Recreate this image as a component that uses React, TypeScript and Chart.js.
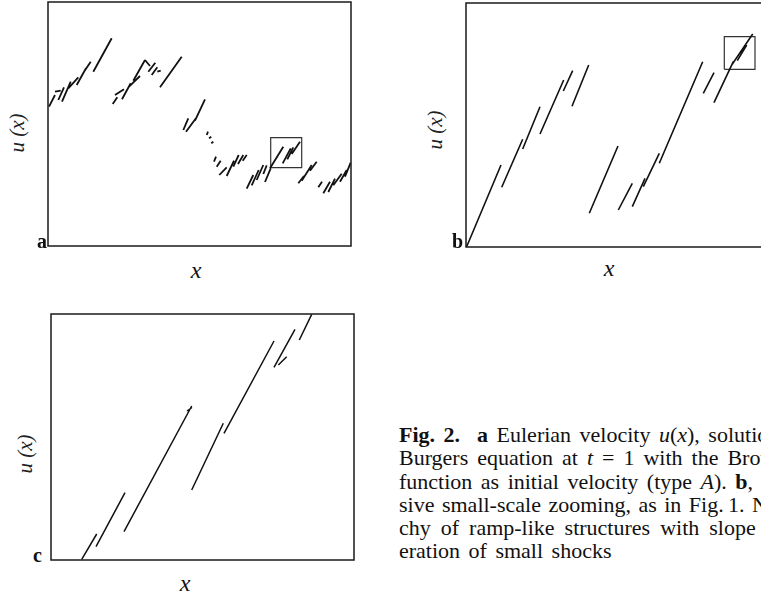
import React, { useEffect, useRef } from "react";
import { Chart, registerables } from "chart.js";

Chart.register(...registerables);

// Segments [x1, y1, x2, y2] in panel units (x: 0..303 from left frame, y: 0..height from bottom frame)
const panelASegments: number[][] = [
  [1, 139.3, 7, 151], [7, 154.3, 12.7, 155.3], [10.3, 146, 16, 158.7], [14, 144.3, 22.7, 164.3],
  [20.3, 157.7, 30.3, 168.7], [28.7, 161, 38, 177.7], [36, 174.3, 42.7, 184.3], [45.3, 174.3, 63.7, 207.7],
  [64.7, 142, 69.3, 148.7], [67, 151, 76, 156.7], [74, 146.7, 82.7, 162.7], [80.3, 158.7, 92, 170],
  [85.3, 165.3, 97, 186], [97, 186, 102, 180], [100.3, 174.3, 107.3, 183.3], [103.7, 171, 109.3, 178.7],
  [109.3, 174.3, 112.7, 175.3], [112, 158.7, 133.7, 189.3],
  [135.3, 116, 140.3, 127.7], [138, 114.3, 148.7, 128.7], [147, 125.3, 157, 146.7],
  [158.7, 111, 160, 114.3], [161, 107.7, 163.3, 109.3], [163.3, 102.7, 165.3, 104.3],
  [166, 84.3, 168, 89.3], [168.7, 79.3, 172.7, 85.3], [171.3, 71, 178.7, 78.7], [178.7, 70, 186, 85.3],
  [185.3, 79.3, 190.7, 91], [190, 82, 195.3, 91], [194.7, 85.3, 198.7, 91],
  [198.7, 57.3, 205.3, 71], [203.7, 60.7, 210.7, 76], [208.7, 66, 215.3, 81], [215.3, 72, 218.7, 80.7],
  [217, 64, 222.7, 77.7], [222, 77.7, 235.3, 99.3], [234.7, 82.7, 242.7, 97.7], [239.3, 86.7, 245.3, 98.7],
  [243.7, 92, 252, 104.3],
  [250.3, 62.7, 256, 70], [253.7, 65.3, 263.7, 81], [262, 75.3, 268.7, 84.3],
  [270.3, 58.7, 274, 64.3], [275.3, 52.7, 282, 64.3], [280.3, 54, 287, 67.3], [285.3, 60.7, 293.7, 72.3],
  [292, 64.3, 298.7, 76], [297, 69.3, 302.7, 83.3],
];
const panelAInset: number[] = [222.7, 78.3, 253.7, 108.3]; // x1, y1, x2, y2

const panelBSegments: number[][] = [
  [0.5, 0, 35, 82], [35.7, 59.7, 56.7, 107.7], [56.7, 98, 74, 140.3], [74, 113, 97.7, 167],
  [97.3, 156, 106.7, 176.3], [106, 140.7, 122.7, 182], [123.3, 33.7, 152, 101],
  [152.3, 37, 166.3, 63.7], [166.3, 40.3, 179, 68.7], [177.3, 60.3, 193.3, 93.7],
  [193.3, 83.7, 236.7, 185.3], [237.3, 153.7, 248, 174.3], [248, 144.3, 267.3, 185.3],
  [265.7, 182, 286.7, 213], [271.3, 186.3, 280.7, 202],
];
const panelBInset: number[] = [258.3, 177.7, 289, 210.3];

const panelCSegments: number[][] = [
  [30.7, 0.7, 45.7, 26], [45, 13.3, 74, 67.3], [73, 28.3, 140.7, 154], [136, 149, 141, 152.5],
  [140.7, 70, 172.3, 136.7], [173, 126.7, 223, 219], [223, 192.7, 244, 230.7],
  [227.3, 195, 235.7, 203.3], [248.3, 220, 260.7, 245.7],
];

const captionLines: string[] = [
  "<b>Fig. 2.</b>&nbsp; <b>a</b> Eulerian velocity <i>u</i>(<i>x</i>), solution of the",
  "Burgers equation at <i>t</i> = 1 with the Brownian motion",
  "function as initial velocity (type <i>A</i>). <b>b</b>, <b>c</b> Succes-",
  "sive small-scale zooming, as in Fig.&#8201;1. Note the hierar-",
  "chy of ramp-like structures with slope 1 and the prolif-",
  "eration of small shocks",
];
const captionSpacing: number[] = [3, 3.5, 3, 2, 4.5, 3];

const frame = {
  id: "frame",
  afterDatasetsDraw(chart: any) {
    const { ctx, chartArea } = chart;
    ctx.save();
    ctx.strokeStyle = "#1a1a1a";
    ctx.lineWidth = 1.5;
    ctx.strokeRect(chartArea.left, chartArea.top, chartArea.right - chartArea.left, chartArea.bottom - chartArea.top);
    ctx.restore();
  },
};

function toPoints(segs: number[][]) {
  const pts: any[] = [];
  segs.forEach((s) => {
    pts.push({ x: s[0], y: s[1] });
    pts.push({ x: s[2], y: s[3] });
    pts.push({ x: s[2], y: null });
  });
  return pts;
}
function boxPoints(b: number[]) {
  return [
    { x: b[0], y: b[1] }, { x: b[2], y: b[1] }, { x: b[2], y: b[3] }, { x: b[0], y: b[3] }, { x: b[0], y: b[1] },
  ];
}

const PAD = 4;

function Panel(props: { segs: number[][]; inset?: number[]; w: number; h: number; left: number; top: number; lw: number }) {
  const ref = useRef<HTMLCanvasElement>(null);
  useEffect(() => {
    const datasets: any[] = [
      { data: toPoints(props.segs), borderColor: "#111", borderWidth: props.lw, pointRadius: 0, spanGaps: false, tension: 0 },
    ];
    if (props.inset) {
      datasets.push({ data: boxPoints(props.inset), borderColor: "#333", borderWidth: 1.2, pointRadius: 0, tension: 0 });
    }
    const chart = new Chart(ref.current!, {
      type: "line",
      data: { datasets },
      options: {
        animation: false,
        responsive: false,
        events: [],
        layout: { padding: PAD },
        plugins: { legend: { display: false }, tooltip: { enabled: false } },
        scales: {
          x: { type: "linear", min: 0, max: props.w, display: false },
          y: { type: "linear", min: 0, max: props.h, display: false },
        },
      },
      plugins: [frame],
    });
    return () => chart.destroy();
  }, []);
  return (
    <canvas
      ref={ref}
      width={props.w + 2 * PAD}
      height={props.h + 2 * PAD}
      style={{ position: "absolute", left: props.left - PAD, top: props.top - PAD, width: props.w + 2 * PAD, height: props.h + 2 * PAD }}
    />
  );
}

const serif = "'Liberation Serif', 'DejaVu Serif', serif";

function Letter(p: { t: string; left: number; top: number }) {
  return (
    <div style={{ position: "absolute", left: p.left, top: p.top, font: `bold 20px ${serif}`, lineHeight: "20px", color: "#111" }}>{p.t}</div>
  );
}
function ULabel(p: { cx: number; cy: number }) {
  return (
    <div style={{ position: "absolute", left: p.cx, top: p.cy, transform: "translate(-50%,-50%) rotate(-90deg)", font: `italic 21px ${serif}`, lineHeight: "21px", whiteSpace: "nowrap", color: "#222" }}>
      u (x)
    </div>
  );
}
function XLabel(p: { cx: number; cy: number }) {
  return (
    <div style={{ position: "absolute", left: p.cx, top: p.cy, transform: "translate(-50%,-50%)", font: `italic 24px ${serif}`, lineHeight: "24px", color: "#111" }}>
      x
    </div>
  );
}

export default function App() {
  return (
    <div style={{ position: "fixed", left: 0, top: 0, width: 761, height: 599, overflow: "hidden", background: "#fff" }}>
      <Panel segs={panelASegments} inset={panelAInset} w={303} h={244} left={48} top={2} lw={1.8} />
      <Panel segs={panelBSegments} inset={panelBInset} w={303} h={244} left={466} top={3} lw={1.6} />
      <Panel segs={panelCSegments} w={303} h={246} left={51} top={314} lw={1.5} />
      <Letter t="a" left={37} top={231} />
      <Letter t="b" left={452} top={231} />
      <Letter t="c" left={33} top={545} />
      <ULabel cx={17} cy={133} />
      <ULabel cx={435} cy={130} />
      <ULabel cx={25} cy={454} />
      <XLabel cx={196} cy={270} />
      <XLabel cx={609} cy={268} />
      <XLabel cx={185} cy={583} />
      <div style={{ position: "absolute", left: 399, top: 423, font: `22px ${serif}`, lineHeight: "23.3px", color: "#111", whiteSpace: "nowrap" }}>
        {captionLines.map((l, i) => (
          <div key={i} style={{ wordSpacing: captionSpacing[i] }} dangerouslySetInnerHTML={{ __html: l }} />
        ))}
      </div>
    </div>
  );
}
